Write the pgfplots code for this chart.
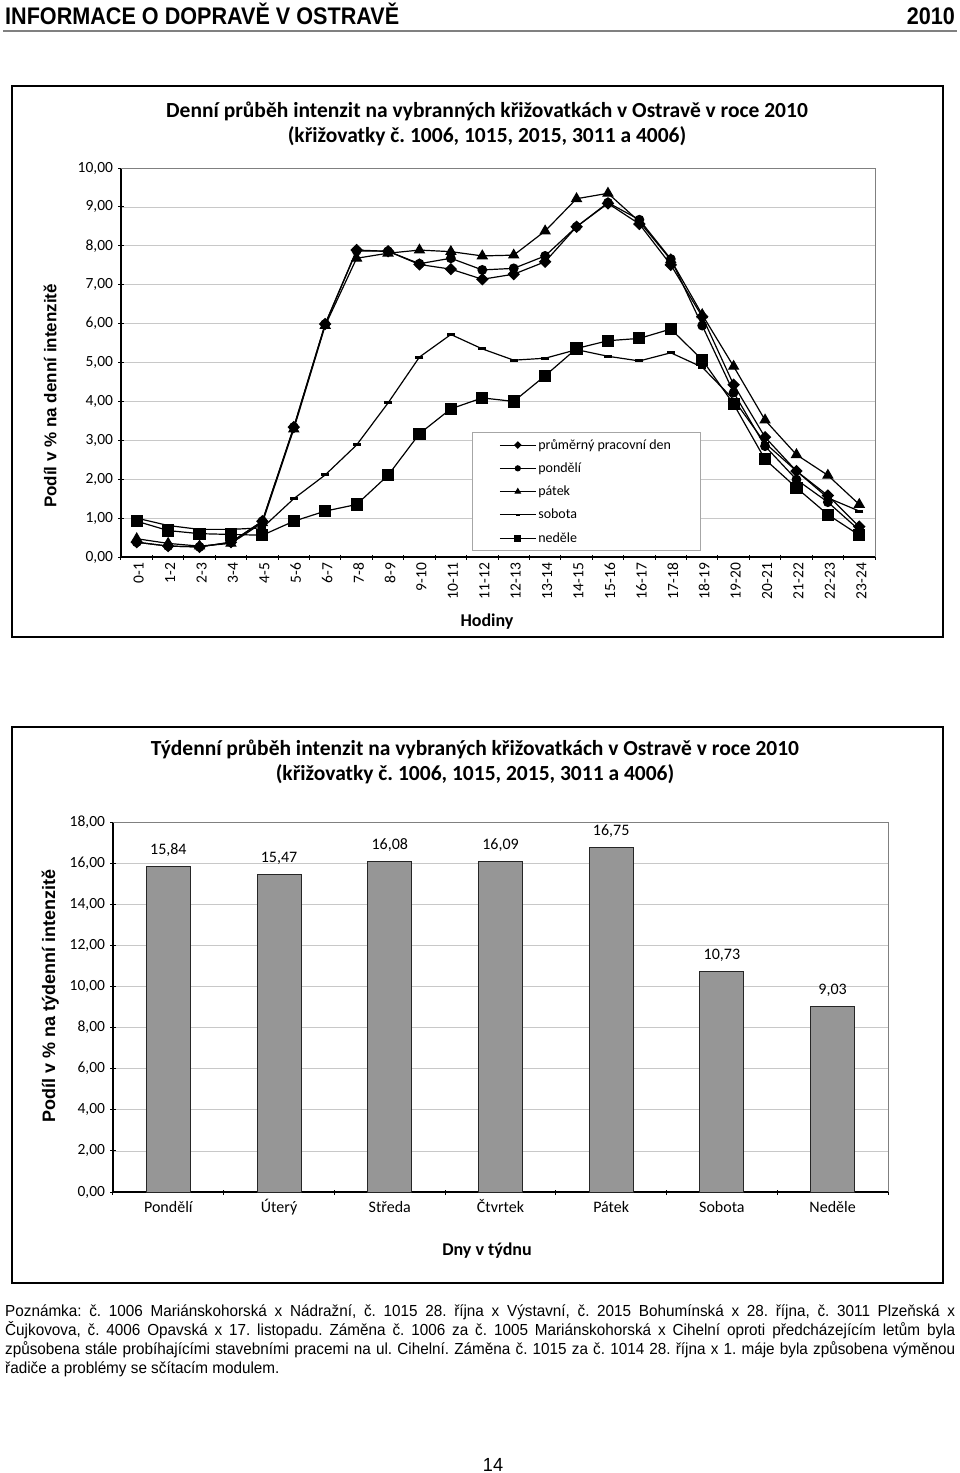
\documentclass[border=0pt]{standalone}
\usepackage{fontspec}
\usepackage{pgfplots}
\pgfplotsset{compat=1.18}
\setmainfont{Carlito}
\newfontfamily\arialn{Liberation Sans}[FakeStretch=0.955]
\newfontfamily\arial{Liberation Sans}
\newfontfamily\headf{Liberation Sans}[FakeStretch=0.9]
\definecolor{barg}{RGB}{150,150,150}
\definecolor{gridg}{RGB}{200,200,200}
\newcommand{\fs}[1]{\fontsize{#1}{#1}\selectfont}
\tikzset{cnum/.style={/pgf/number format/fixed, /pgf/number format/fixed zerofill, /pgf/number format/precision=2, /pgf/number format/use comma, /pgf/number format/assume math mode=true}}
\frenchspacing
\begin{document}
\begin{tikzpicture}
\path[use as bounding box, fill=white] (0pt,0pt) rectangle (960pt,-1473pt);
% header
\node[anchor=base west, inner sep=0] at (5pt,-24pt) {\headf\fs{24}\bfseries INFORMACE O DOPRAVĚ V OSTRAVĚ};
\node[anchor=base east, inner sep=0] at (955pt,-24pt) {\headf\fs{24}\bfseries 2010};
\draw[gray, line width=2.5pt] (3pt,-31pt) -- (957pt,-31pt);
% frames
\draw[line width=2.5pt] (12pt,-86pt) rectangle (943pt,-637pt);
\draw[line width=2.5pt] (12pt,-727pt) rectangle (943pt,-1283pt);
% titles
\node[anchor=base, inner sep=0] at (487pt,-117pt) {\fs{21.5}\bfseries Denní průběh intenzit na vybranných křižovatkách v Ostravě v roce 2010};
\node[anchor=base, inner sep=0] at (487pt,-142pt) {\fs{21.5}\bfseries (křižovatky č. 1006, 1015, 2015, 3011 a 4006)};
\node[anchor=base, inner sep=0] at (475pt,-755pt) {\fs{21.5}\bfseries Týdenní průběh intenzit na vybraných křižovatkách v Ostravě v roce 2010};
\node[anchor=base, inner sep=0] at (475pt,-780pt) {\fs{21.5}\bfseries (křižovatky č. 1006, 1015, 2015, 3011 a 4006)};

% ---------- top chart
\begin{axis}[
  at={(121pt,-557pt)}, anchor=south west, scale only axis,
  width=754pt, height=389pt,
  xmin=-0.5, xmax=23.5, ymin=0, ymax=10,
  ytick={0,1,...,10},
  xtick={0,1,...,23},
  xticklabels={0-1,1-2,2-3,3-4,4-5,5-6,6-7,7-8,8-9,9-10,10-11,11-12,12-13,13-14,14-15,15-16,16-17,17-18,18-19,19-20,20-21,21-22,22-23,23-24},
  minor xtick={-0.5,0.5,...,23.5},
  major x tick style={draw=none},
  tick align=outside, major tick length=5pt, minor tick length=5pt,
  tick style={black, line width=1pt},
  axis lines=left, axis line style={-, black, line width=1.3pt},
  ymajorgrids, major grid style={gridg, line width=0.8pt},
  yticklabel style={font=\fs{15.5}, cnum, xshift=-2pt},
  xticklabel style={rotate=90, anchor=east, font=\fs{15.5}, yshift=-2pt},
  xlabel={\fs{18}\bfseries Hodiny},
  xlabel style={at={(axis description cs:0.4854,-0.167)}, anchor=center},
  ylabel={\arial\fs{17}\bfseries Podíl v \% na denní intenzitě},
  ylabel style={at={(axis description cs:-0.094,0.414)}, anchor=center},
  legend style={at={(0.4655,0.3213)}, anchor=north west, draw=gray!70, line width=0.6pt,
    font=\fs{14}, row sep=8pt, inner xsep=27pt, inner ysep=5pt},
  legend cell align=left,
  legend image code/.code={\draw[mark repeat=2,mark phase=2,#1] plot coordinates {(0pt,0pt) (18pt,0pt) (36pt,0pt)};},
  clip=false,
]
\addlegendimage{black, line width=1pt, mark=square*, mark options={rotate=45}, mark size=2.2pt}
\addlegendentry{průměrný pracovní den}
\addlegendimage{black, line width=1pt, mark=*, mark size=2.6pt}
\addlegendentry{pondělí}
\addlegendimage{black, line width=1pt, mark=triangle*, mark size=3pt}
\addlegendentry{pátek}
\addlegendimage{black, line width=1pt, mark=-, mark size=2pt, mark options={line width=2pt}}
\addlegendentry{sobota}
\addlegendimage{black, line width=1pt, mark=square*, mark size=3pt}
\addlegendentry{neděle}
% průměrný pracovní den
\addplot[forget plot, black, line width=1.2pt, mark=square*, mark options={rotate=45, solid}, mark size=3.8pt] coordinates {
(0,0.38) (1,0.28) (2,0.26) (3,0.38) (4,0.92) (5,3.34) (6,5.99) (7,7.89) (8,7.86) (9,7.52) (10,7.40) (11,7.14) (12,7.27) (13,7.59) (14,8.49) (15,9.09) (16,8.56) (17,7.51) (18,6.18) (19,4.43) (20,3.08) (21,2.21) (22,1.58) (23,0.78)};
% pondělí
\addplot[forget plot, black, line width=1.2pt, mark=*, mark size=4.3pt] coordinates {
(0,0.38) (1,0.28) (2,0.26) (3,0.38) (4,0.92) (5,3.34) (6,5.99) (7,7.87) (8,7.86) (9,7.54) (10,7.68) (11,7.38) (12,7.42) (13,7.74) (14,8.49) (15,9.11) (16,8.67) (17,7.66) (18,5.95) (19,4.23) (20,2.85) (21,1.99) (22,1.41) (23,0.69)};
% pátek
\addplot[forget plot, black, line width=1.2pt, mark=triangle*, mark size=5.5pt] coordinates {
(0,0.47) (1,0.35) (2,0.28) (3,0.35) (4,0.88) (5,3.29) (6,5.95) (7,7.68) (8,7.81) (9,7.89) (10,7.85) (11,7.74) (12,7.76) (13,8.38) (14,9.21) (15,9.35) (16,8.62) (17,7.64) (18,6.23) (19,4.90) (20,3.52) (21,2.63) (22,2.10) (23,1.35)};
% sobota
\addplot[forget plot, black, line width=1.2pt, mark=-, mark size=4pt, mark options={line width=3pt}] coordinates {
(0,1.00) (1,0.81) (2,0.71) (3,0.71) (4,0.75) (5,1.50) (6,2.11) (7,2.88) (8,3.96) (9,5.14) (10,5.72) (11,5.35) (12,5.06) (13,5.11) (14,5.33) (15,5.16) (16,5.04) (17,5.25) (18,4.88) (19,4.05) (20,2.93) (21,2.21) (22,1.52) (23,1.18)};
% neděle
\addplot[forget plot, black, line width=1.2pt, mark=square*, mark size=5.5pt] coordinates {
(0,0.92) (1,0.68) (2,0.60) (3,0.58) (4,0.56) (5,0.92) (6,1.18) (7,1.35) (8,2.10) (9,3.17) (10,3.81) (11,4.09) (12,4.00) (13,4.66) (14,5.36) (15,5.56) (16,5.62) (17,5.86) (18,5.07) (19,3.93) (20,2.51) (21,1.78) (22,1.09) (23,0.56)};
\draw[gray, line width=0.8pt] (rel axis cs:0,1) -- (rel axis cs:1,1) -- (rel axis cs:1,0);
\end{axis}

% ---------- bottom chart
\begin{axis}[
  at={(113pt,-1192pt)}, anchor=south west, scale only axis,
  width=775pt, height=370pt,
  xmin=-0.5, xmax=6.5, ymin=0, ymax=18,
  ytick={0,2,...,18},
  ybar, bar width=44pt,
  xtick={0,1,...,6},
  xticklabels={Pondělí,Úterý,Středa,Čtvrtek,Pátek,Sobota,Neděle},
  minor xtick={-0.5,0.5,...,6.5},
  major x tick style={draw=none},
  tick align=outside, major tick length=5pt, minor tick length=5pt,
  tick style={black, line width=1pt},
  axis lines=left, axis line style={-, black, line width=1.3pt},
  ymajorgrids, major grid style={gridg, line width=0.8pt},
  yticklabel style={font=\fs{15.5}, cnum, xshift=-2pt},
  xticklabel style={font=\fs{16}, text height=11pt, text depth=3pt, yshift=-3pt},
  xlabel={\fs{18}\bfseries Dny v týdnu},
  xlabel style={at={(axis description cs:0.4826,-0.157)}, anchor=center},
  ylabel={\arial\fs{18}\bfseries Podíl v \% na týdenní intenzitě},
  ylabel style={at={(axis description cs:-0.081,0.53)}, anchor=center},
  nodes near coords,
  every node near coord/.append style={font=\fs{16}, black, yshift=6pt, cnum},
  clip=false,
]
\addplot[fill=barg, draw=black!85, line width=0.9pt] coordinates {(0,15.84) (1,15.47) (2,16.08) (3,16.09) (4,16.75) (5,10.73) (6,9.03)};
\draw[gray, line width=0.8pt] (rel axis cs:0,1) -- (rel axis cs:1,1) -- (rel axis cs:1,0);
\end{axis}

% note
\node[anchor=north west, inner sep=0, text width=950pt, align=justify] at (5pt,-1305pt) {\arialn\fontsize{16}{19}\selectfont
Poznámka: č. 1006 Mariánskohorská x Nádražní, č. 1015 28. října x Výstavní, č. 2015 Bohumínská x 28. října, č. 3011 Plzeňská x\linebreak
Čujkovova, č. 4006 Opavská x 17. listopadu. Záměna č. 1006 za č. 1005 Mariánskohorská x Cihelní oproti předcházejícím letům byla\linebreak
způsobena stále probíhajícími stavebními pracemi na ul. Cihelní. Záměna č. 1015 za č. 1014 28. října x 1. máje byla způsobena výměnou\linebreak
řadiče a problémy se sčítacím modulem.\par};
\node[anchor=base, inner sep=0] at (493pt,-1471pt) {\arialn\fs{19}14};
\end{tikzpicture}
\end{document}
